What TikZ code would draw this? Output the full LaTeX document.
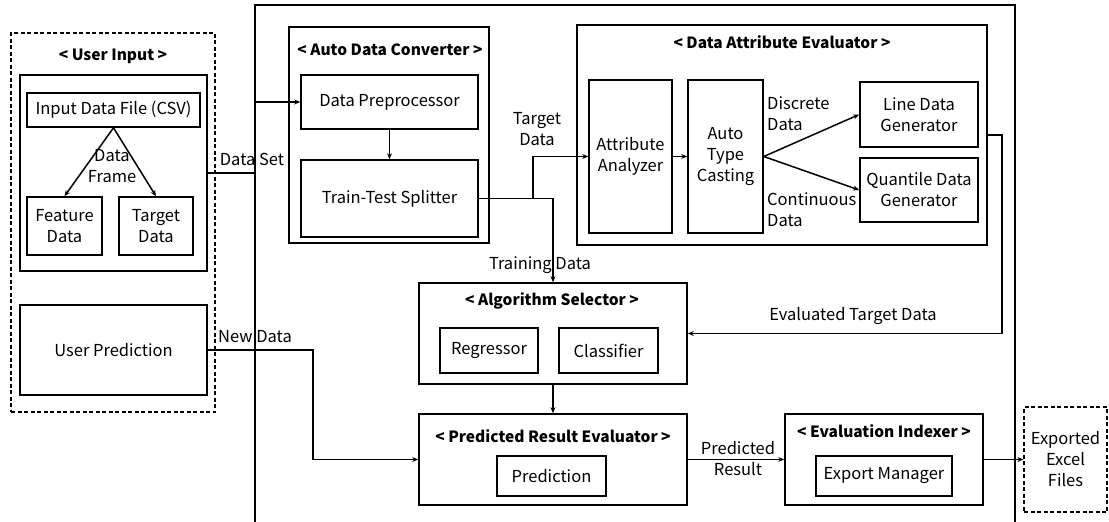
\documentclass[tikz,border=0pt]{standalone}
\usepackage{fontspec}
\setmainfont{Noto Sans CJK KR}
\usetikzlibrary{arrows.meta,calc}
\tikzset{
  box/.style={draw, line width=1.6pt, inner sep=0pt, align=center, font=\fontsize{16.5}{21}\selectfont},
  dbox/.style={box, dashed, line width=1.3pt, dash pattern=on 4pt off 2.5pt},
  ttl/.style={inner sep=0pt, font=\fontsize{15.5}{19}\selectfont\bfseries},
  lbl/.style={inner sep=0pt, align=center, font=\fontsize{16.5}{21}\selectfont},
  arr/.style={line width=1.5pt, -{Stealth[length=6pt,width=5pt]}},
}
\begin{document}
\begin{tikzpicture}[x=1pt,y=-1pt]
\useasboundingbox (0,0) rectangle (1109,522);
\clip (0,0) rectangle (1109,522);
% system frame
\coordinate (sbl) at (255,530);
\coordinate (stl) at (255,5);
\coordinate (str) at (1015,5);
\coordinate (sbr) at (1015,530);
\draw[line width=1.6pt] (sbl) -- (stl) -- (str) -- (sbr);
% user input
\node[dbox, minimum width=204pt, minimum height=379pt] (ui) at (113,222.5) {};
\node[ttl] (uit) at (113,56) {< User Input >};
\node[box, minimum width=187pt, minimum height=196pt] (uin) at (113.5,173) {};
\node[box, minimum width=173pt, minimum height=34pt] (csv) at (113.5,110) {Input Data File (CSV)};
\node[box, minimum width=75pt, minimum height=58pt] (feat) at (64.5,226) {Feature\\Data};
\node[box, minimum width=74pt, minimum height=58pt] (targ) at (156,226) {Target\\Data};
\node[box, minimum width=187pt, minimum height=90pt] (uprd) at (113.5,350) {User Prediction};
% auto data converter
\node[box, minimum width=200pt, minimum height=216pt] (adc) at (389,135) {};
\node[ttl] (adct) at (390,50) {< Auto Data Converter >};
\node[box, minimum width=177pt, minimum height=54pt] (dp) at (389.5,102) {Data Preprocessor};
\node[box, minimum width=177pt, minimum height=77pt] (tts) at (389.5,198.5) {Train-Test Splitter};
% data attribute evaluator
\node[box, minimum width=410pt, minimum height=220pt] (dae) at (782,135) {};
\node[ttl] (daet) at (782,42) {< Data Attribute Evaluator >};
\node[box, minimum width=83pt, minimum height=153pt] (aa) at (630.5,156.5) {Attribute\\Analyzer};
\node[box, minimum width=75pt, minimum height=153pt] (atc) at (725.5,156.5) {Auto\\Type\\Casting};
\node[box, minimum width=118pt, minimum height=65pt] (ldg) at (919,114.5) {Line Data\\Generator};
\node[box, minimum width=118pt, minimum height=64pt] (qdg) at (919,190) {Quantile Data\\Generator};
% algorithm selector
\node[box, minimum width=268pt, minimum height=101pt] (as) at (553,333.5) {};
\node[ttl] (ast) at (552,301) {< Algorithm Selector >};
\node[box, minimum width=98pt, minimum height=45pt] (reg) at (489,350.5) {Regressor};
\node[box, minimum width=99pt, minimum height=45pt] (cls) at (608.5,350.5) {Classifier};
% predicted result evaluator
\node[box, minimum width=268pt, minimum height=91pt] (pre) at (553,459.5) {};
\node[ttl] (pret) at (553,436) {< Predicted Result Evaluator >};
\node[box, minimum width=109pt, minimum height=40pt] (pred) at (551.5,476) {Prediction};
% evaluation indexer
\node[box, minimum width=198pt, minimum height=91pt] (ei) at (884,459.5) {};
\node[ttl] (eit) at (884,431) {< Evaluation Indexer >};
\node[box, minimum width=136pt, minimum height=40pt] (em) at (884,476) {Export Manager};
% exported files
\node[dbox, minimum width=83pt, minimum height=105pt] (exp) at (1065.5,459.5) {Exported\\Excel\\Files};

% connectors
\draw[arr] (csv.south) -- (feat.north);
\draw[arr] (csv.south) -- (targ.north);
\node[lbl] (dfl) at (112,166) {Data\\Frame};

\coordinate (dsj) at (255,173);
\draw[arr] (uin.east) -- (dsj) |- (dp.west);
\node[lbl] (dsl) at (252,159) {Data Set};

\draw[arr] (dp.south) -- (tts.north);
\draw[arr] (tts.east) -| (as.north);
\coordinate (br) at (533,198.5);
\draw[arr] (br) |- (aa.west);
\node[lbl] (tdl) at (537,129) {Target\\Data};
\node[lbl] (trl) at (540,265) {Training Data};

\draw[arr] (aa.east) -- (atc.west);
\draw[arr] (atc.east) -- (ldg.west);
\draw[arr] (atc.east) -- (qdg.west);
\node[lbl, anchor=west, align=left] (ddl) at (767,114) {Discrete\\Data};
\node[lbl, anchor=west, align=left] (cdl) at (767,210) {Continuous\\Data};

\coordinate (etj) at (1002,135);
\draw[arr] (dae.east) -- (etj) |- (as.east);
\node[lbl] (etl) at (853,316) {Evaluated Target Data};

\draw[arr] (as.south) -- (pre.north);

\coordinate (ndj) at (313,350);
\draw[arr] (uprd.east) -- (ndj) |- (pre.west);
\node[lbl] (ndl) at (255,337) {New Data};

\draw[arr] (pre.east) -- (ei.west);
\node[lbl] (prl) at (738,459) {Predicted\\Result};
\draw[arr] (ei.east) -- (exp.west);
\end{tikzpicture}
\end{document}
